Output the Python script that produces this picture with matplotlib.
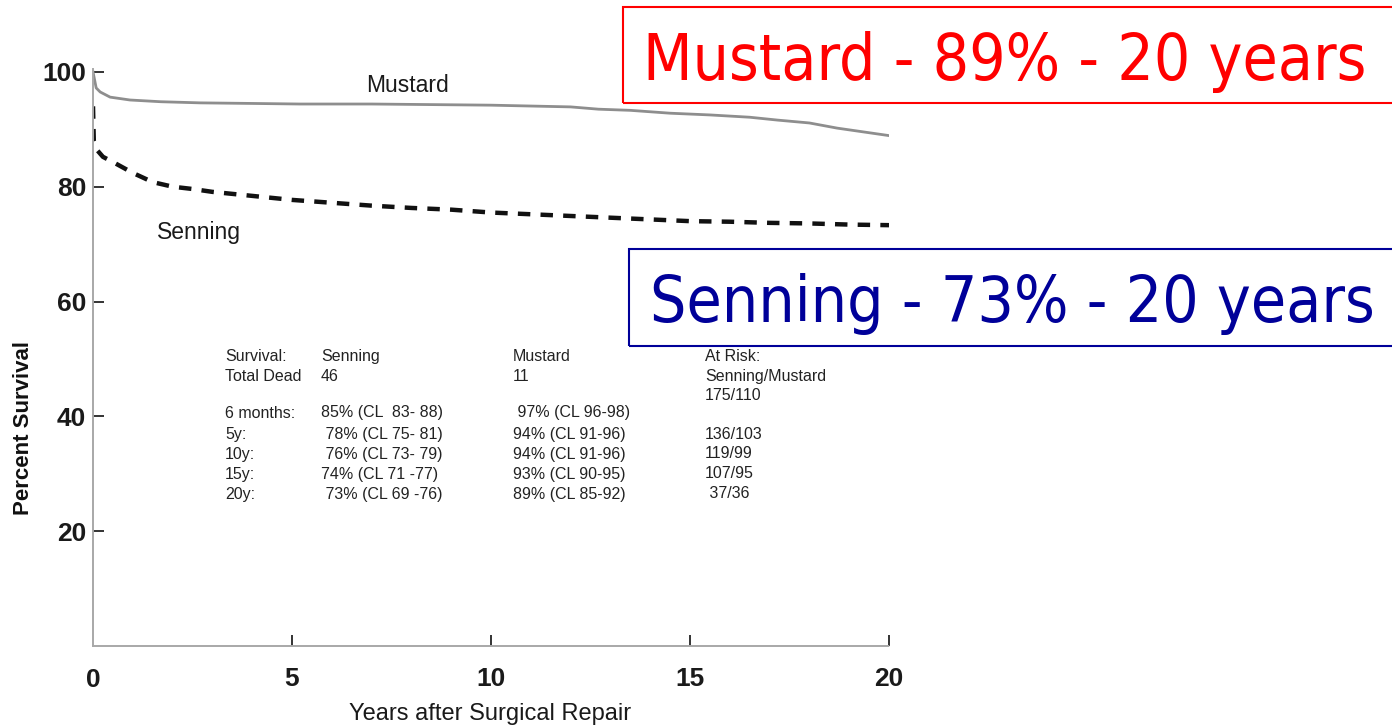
import matplotlib
matplotlib.use("Agg")
import matplotlib.pyplot as plt
from matplotlib.patches import Rectangle

# ---- data -------------------------------------------------------------
mustard_years = [0, 0.08, 0.18, 0.43, 0.93, 1.7, 2.7, 4, 5.2, 7, 8.5, 10, 12, 12.7,
                 13.5, 14.5, 15.5, 16.5, 17.2, 18, 18.7, 19.5, 20]
mustard_surv = [100, 97.2, 96.5, 95.6, 95.1, 94.8, 94.6, 94.5, 94.4, 94.4, 94.3, 94.2,
                93.9, 93.5, 93.3, 92.8, 92.5, 92.1, 91.6, 91.1, 90.2, 89.4, 88.9]

senning_years = [0, 0.02, 0.1, 0.25, 0.5, 1, 1.5, 2, 2.5, 3, 4, 5, 6, 7, 8, 9, 10,
                 11, 12, 13, 14, 15, 16, 17, 18, 19, 20]
senning_surv = [94.0, 88.0, 86.4, 85.2, 84.3, 82.4, 80.8, 80.0, 79.6, 79.1, 78.4, 77.7,
                77.2, 76.7, 76.3, 76.0, 75.5, 75.2, 74.9, 74.6, 74.3, 74.0, 73.9, 73.7,
                73.6, 73.4, 73.3]

x_ticks = [5, 10, 15, 20]
x_ticklabels = ["5", "10", "15", "20"]
y_ticks = [20, 40, 60, 80, 100]

table_header = ["Survival:", "Senning", "Mustard", "At Risk:"]
table_dead = ["Total Dead", "46", "11", "Senning/Mustard"]
table_risk_start = "175/110"
row_labels = ["6 months:", "5y:", "10y:", "15y:", "20y:"]
senning_cl = ["85% (CL  83- 88)", " 78% (CL 75- 81)", " 76% (CL 73- 79)",
              "74% (CL 71 -77)", " 73% (CL 69 -76)"]
mustard_cl = [" 97% (CL 96-98)", "94% (CL 91-96)", "94% (CL 91-96)",
              "93% (CL 90-95)", "89% (CL 85-92)"]
at_risk = ["", "136/103", "119/99", "107/95", " 37/36"]

mustard_banner = "Mustard - 89% - 20 years"
senning_banner = "Senning - 73% - 20 years"

# ---- figure -----------------------------------------------------------
W, H = 1392, 727
fig = plt.figure(figsize=(W / 100, H / 100), dpi=100)
fig.patch.set_facecolor("white")


def fx(x):
    return x / W


def fy(y):
    return 1 - y / H


ax = fig.add_axes([fx(93), fy(646), fx(889) - fx(93), fy(69) - fy(646)])
ax.set_xlim(0, 20)
ax.set_ylim(0, 100.5)

ax.plot(mustard_years, mustard_surv, color="#8e8e8e", lw=2.0,
        solid_joinstyle="round")
ax.plot(senning_years, senning_surv, color="#111111", lw=3.2,
        linestyle=(0, (2.8, 2.3)), dash_capstyle="butt")

for side in ("top", "right"):
    ax.spines[side].set_visible(False)
for side in ("left", "bottom"):
    ax.spines[side].set_color("#a8a8a8")
    ax.spines[side].set_linestyle((0, (1, 1)))
    ax.spines[side].set_linewidth(1.4)

tick_font = dict(family="Liberation Sans", size=19, weight="bold")
ax.set_xticks(x_ticks)
ax.set_xticklabels(x_ticklabels, fontdict=tick_font, color="#1a1a1a")
ax.set_yticks(y_ticks)
ax.set_yticklabels([str(v) for v in y_ticks], fontdict=tick_font, color="#1a1a1a")
ax.tick_params(axis="x", direction="in", length=8, width=1.4, color="#333333",
               pad=15)
ax.tick_params(axis="y", direction="in", length=8, width=1.4, color="#333333",
               pad=5)

# zero label on the x axis (no tick mark there)
fig.text(fx(93), fy(680), "0", ha="center", va="center",
         family="Liberation Sans", size=19, weight="bold", color="#1a1a1a")

fig.text(fx(490), fy(714), "Years after Surgical Repair", ha="center",
         va="center", family="Liberation Sans", size=17, color="#1a1a1a")
fig.text(fx(24), fy(428), "Percent Survival", ha="center", va="center",
         rotation=90, family="Liberation Sans", size=16, weight="bold",
         color="#111111")

# curve names
fig.text(fx(407), fy(85), "Mustard", ha="center", va="center",
         family="Liberation Sans", size=16.5, color="#1a1a1a")
fig.text(fx(199), fy(232), "Senning", ha="center", va="center",
         family="Liberation Sans", size=16.5, color="#1a1a1a")

# summary table
tfont = dict(family="Liberation Sans", size=11.5, color="#222222",
             va="center", ha="left")
cols = [225, 321, 513, 705]
for c, s in zip(cols, table_header):
    fig.text(fx(c), fy(356), s, **tfont)
for c, s in zip(cols, table_dead):
    fig.text(fx(c), fy(376), s, **tfont)
fig.text(fx(705), fy(396), table_risk_start, **tfont)
row_y = [413, 434, 454, 474, 494]
for y, a, b, c, d in zip(row_y, row_labels, senning_cl, mustard_cl, at_risk):
    fig.text(fx(225), fy(y), a, **tfont)
    fig.text(fx(321), fy(y), b, **tfont)
    fig.text(fx(513), fy(y), c, **tfont)
    fig.text(fx(705), fy(y), d, **tfont)

# highlighted result banners
red = "#ff0000"
navy = "#000099"
fig.patches.append(Rectangle((fx(623), fy(103)), fx(1420) - fx(623),
                             fy(7) - fy(103), transform=fig.transFigure,
                             fill=False, edgecolor=red, lw=1.5))
fig.text(fx(643), fy(80), mustard_banner, ha="left", va="baseline",
         family="DejaVu Sans", stretch="condensed", size=46, color=red)

fig.patches.append(Rectangle((fx(629), fy(346)), fx(1420) - fx(629),
                             fy(249) - fy(346), transform=fig.transFigure,
                             fill=False, edgecolor=navy, lw=1.5))
fig.text(fx(650), fy(322), senning_banner, ha="left", va="baseline",
         family="DejaVu Sans", stretch="condensed", size=46, color=navy)

fig.savefig("out.png", dpi=100, facecolor="white")
